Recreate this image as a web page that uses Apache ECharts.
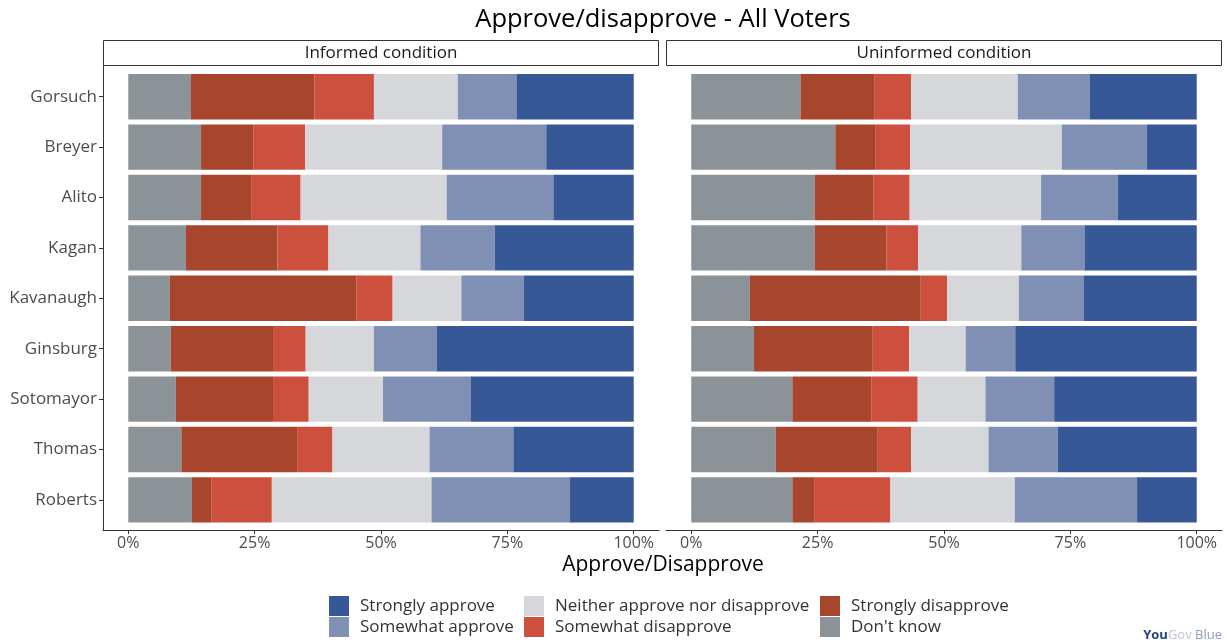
<!DOCTYPE html>
<html>
<head>
<meta charset="utf-8">
<script src="https://cdn.jsdelivr.net/npm/echarts@6/dist/echarts.min.js"></script>
<style>
html,body{margin:0;padding:0;background:#fff;}
#chart{width:1228px;height:643px;}
</style>
</head>
<body>
<div id="chart"></div>
<script>
// ---------- data ----------
const judges = ['Gorsuch','Breyer','Alito','Kagan','Kavanaugh','Ginsburg','Sotomayor','Thomas','Roberts'];
const responses = ["Don't know","Strongly disapprove","Somewhat disapprove","Neither approve nor disapprove","Somewhat approve","Strongly approve"];
const tickValues = [0,25,50,75,100];
const panels = ['Informed condition','Uninformed condition'];

// Informed condition (percent)
const infDontKnow   = [12.4,14.4,14.4,11.4, 8.2, 8.4, 9.4,10.5,12.6];
const infStrongDis  = [24.4,10.4, 9.9,18.1,36.9,20.4,19.4,22.9, 3.8];
const infSomeDis    = [11.8,10.2, 9.8,10.1, 7.2, 6.3, 6.9, 7.0,12.0];
const infNeither    = [16.6,27.1,28.9,18.2,13.6,13.5,14.7,19.2,31.6];
const infSomeApp    = [11.6,20.6,21.1,14.7,12.4,12.4,17.3,16.6,27.4];
const infStrongApp  = [23.2,17.3,15.9,27.5,21.7,39.0,32.3,23.8,12.6];

// Uninformed condition (percent)
const uninfDontKnow  = [21.6,28.5,24.4,24.4,11.6,12.4,20.0,16.7,20.0];
const uninfStrongDis = [14.7, 8.0,11.6,14.2,33.8,23.5,15.6,20.2, 4.3];
const uninfSomeDis   = [ 7.2, 6.8, 7.2, 6.3, 5.2, 7.2, 9.2, 6.6,15.1];
const uninfNeither   = [21.1,30.0,26.0,20.4,14.2,11.2,13.4,15.3,24.6];
const uninfSomeApp   = [14.2,16.8,15.2,12.5,12.9, 9.8,13.6,13.7,24.2];
const uninfStrongApp = [21.2, 9.9,15.6,22.2,22.3,35.9,28.2,27.5,11.8];

// ---------- styling ----------
const colors = {
  "Don't know": '#8C9398',
  "Strongly disapprove": '#A8452D',
  "Somewhat disapprove": '#CD4F3D',
  "Neither approve nor disapprove": '#D6D7DB',
  "Somewhat approve": '#8090B4',
  "Strongly approve": '#365897'
};
const FONT = '"Open Sans", "Noto Sans", sans-serif';
const axisCol = '#333333';
const labCol = '#4D4D4D';

const panelData = [
  [infDontKnow, infStrongDis, infSomeDis, infNeither, infSomeApp, infStrongApp],
  [uninfDontKnow, uninfStrongDis, uninfSomeDis, uninfNeither, uninfSomeApp, uninfStrongApp]
];

const panelLeft = [103, 666];
const panelW = 556;
const frameTop = 66, frameH = 464;
const barTop = 71.5, barH = 453.6;

const grids = [], xAxes = [], yAxes = [], series = [];
panelLeft.forEach((L, p) => {
  grids.push({left: L, top: frameTop, width: panelW, height: frameH, containLabel: false});
  grids.push({left: L, top: barTop, width: panelW, height: barH, containLabel: false});
  const fg = p*2, bg = p*2+1;
  xAxes.push({
    gridIndex: fg, type: 'value', min: -5, max: 105, position: 'bottom',
    axisLine: {show: true, onZero: false, lineStyle: {color: axisCol, width: 1}},
    axisTick: {show: true, customValues: tickValues, length: 4, lineStyle: {color: axisCol}},
    axisLabel: {customValues: tickValues, formatter: v => v + '%', color: labCol, fontSize: 16, fontFamily: FONT, margin: 5},
    splitLine: {show: false}
  });
  xAxes.push({gridIndex: bg, type: 'value', min: -5, max: 105, show: false, splitLine: {show: false}});
  yAxes.push({
    gridIndex: fg, type: 'value', min: 0, max: 1, position: 'left',
    show: p === 0,
    axisLine: {show: true, onZero: false, lineStyle: {color: axisCol, width: 1}},
    axisTick: {show: false}, axisLabel: {show: false}, splitLine: {show: false}
  });
  yAxes.push({
    gridIndex: bg, type: 'category', data: judges, inverse: true, position: 'left',
    show: p === 0,
    axisLine: {show: false, onZero: false},
    axisTick: {show: true, alignWithLabel: true, length: 4, lineStyle: {color: axisCol}},
    axisLabel: {color: labCol, fontSize: 17, fontFamily: FONT, margin: 6},
    splitLine: {show: false}
  });
  responses.forEach((r, i) => {
    series.push({
      name: r, type: 'bar', stack: 'panel' + p,
      xAxisIndex: bg, yAxisIndex: bg,
      barWidth: '90%',
      itemStyle: {color: colors[r]},
      emphasis: {disabled: true},
      data: panelData[p][i]
    });
  });
});

const legendCols = [
  {left: 329, items: ["Strongly approve","Somewhat approve"]},
  {left: 524, items: ["Neither approve nor disapprove","Somewhat disapprove"]},
  {left: 820, items: ["Strongly disapprove","Don't know"]}
];
const legends = legendCols.map(c => ({
  type: 'plain',
  left: c.left, top: 596, orient: 'vertical', itemGap: 1,
  height: 44, width: 300, padding: 0,
  itemWidth: 20, itemHeight: 20, icon: 'rect',
  selectedMode: false,
  data: c.items,
  textStyle: {fontSize: 17, color: '#333', fontFamily: FONT, padding: [0,0,0,6]}
}));

const gfx = [];
gfx.push({type: 'text', x: 663, y: 20, silent: true,
  style: {text: 'Approve/disapprove - All Voters', fill: '#000', font: '25.5px ' + FONT, align: 'center', verticalAlign: 'middle'}});
gfx.push({type: 'text', x: 663, y: 565, silent: true,
  style: {text: 'Approve/Disapprove', fill: '#000', font: '21px ' + FONT, align: 'center', verticalAlign: 'middle'}});
panelLeft.forEach((L, p) => {
  gfx.push({type: 'rect', silent: true, shape: {x: L + 0.5, y: 40.5, width: panelW - 1, height: 25},
    style: {fill: '#fff', stroke: '#333', lineWidth: 1}});
  gfx.push({type: 'text', silent: true, x: L + panelW/2, y: 53,
    style: {text: panels[p], fill: '#1a1a1a', font: '17px ' + FONT, align: 'center', verticalAlign: 'middle'}});
});
gfx.push({type: 'text', silent: true, x: 1222, y: 635,
  style: {text: '{a|You}{b|Gov}{c| Blue}', align: 'right', verticalAlign: 'middle',
    rich: {
      a: {fontSize: 13, fontWeight: 'bold', fill: '#23427E', fontFamily: FONT},
      b: {fontSize: 13, fill: '#BFC5CF', fontFamily: FONT},
      c: {fontSize: 13, fill: '#8A9CBE', fontFamily: FONT}
    }}});

const chart = echarts.init(document.getElementById('chart'), null, {renderer: 'canvas'});
chart.setOption({
  animation: false,
  backgroundColor: '#fff',
  textStyle: {fontFamily: FONT},
  grid: grids, xAxis: xAxes, yAxis: yAxes, series: series,
  legend: legends,
  graphic: gfx
});
</script>
</body>
</html>
